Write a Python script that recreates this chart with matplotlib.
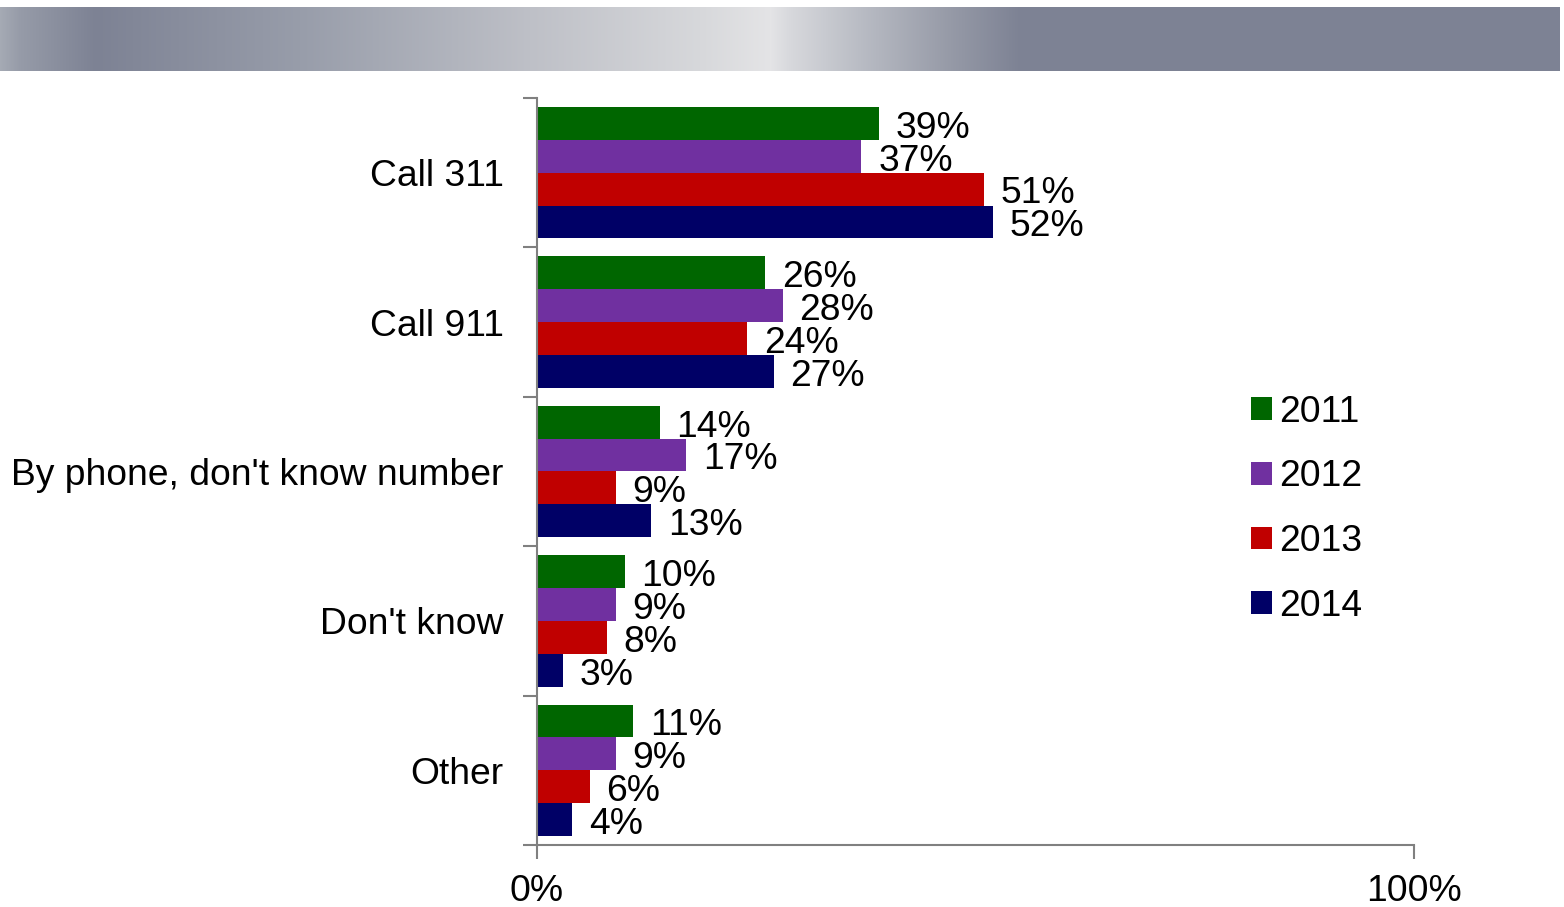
import numpy as np
import matplotlib
matplotlib.use("Agg")
import matplotlib.pyplot as plt
import matplotlib.patheffects as pe
from matplotlib.ticker import FixedLocator, NullFormatter

plt.rcParams['font.family'] = ['Liberation Sans', 'DejaVu Sans']

categories = ["Call 311", "Call 911", "By phone, don't know number", "Don't know", "Other"]
years = ["2011", "2012", "2013", "2014"]
values = {
    "2011": [39, 26, 14, 10, 11],
    "2012": [37, 28, 17, 9, 9],
    "2013": [51, 24, 9, 8, 6],
    "2014": [52, 27, 13, 3, 4],
}
colors = {"2011": "#006600", "2012": "#7030A0", "2013": "#C00000", "2014": "#000066"}
x_tick_labels = ["0%", "100%"]

FS = 26.8
W, H = 1564, 907
fig = plt.figure(figsize=(W / 100, H / 100), dpi=100)

# Header band with a horizontal grey gradient
band = fig.add_axes([0, 1 - 71 / H, 1560 / W, 64 / H])
stops_x = [0, 20, 95, 300, 530, 700, 770, 790, 860, 950, 1020, 1560]
stops_c = [(165, 170, 180), (150, 155, 168), (125, 130, 148), (152, 157, 170),
           (190, 192, 199), (215, 216, 219), (228, 228, 230), (215, 216, 220),
           (185, 188, 196), (150, 154, 167), (125, 130, 148), (125, 130, 148)]
xs = np.arange(1560)
grad = np.stack([np.interp(xs, stops_x, [c[i] for c in stops_c]) for i in range(3)], axis=-1) / 255
band.imshow(grad[None, :, :], aspect='auto', extent=[0, 1, 0, 1])
band.set_axis_off()

ax = fig.add_axes([537 / W, 1 - 845 / H, (1414 - 537) / W, (845 - 98) / H])

n_cat = len(categories)
bar_h = 0.22
y_centers = np.arange(n_cat)
shadow = [pe.SimplePatchShadow(offset=(3, -3), shadow_rgbFace='#808080', alpha=0.4), pe.Normal()]

for j, yr in enumerate(years):
    ys = y_centers + (j - 1.5) * bar_h
    bars = ax.barh(ys, values[yr], height=bar_h, color=colors[yr], label=yr, zorder=2)
    for b in bars:
        b.set_path_effects(shadow)
    for y, v in zip(ys, values[yr]):
        ax.annotate(f"{v}%", xy=(v, y), xytext=(12, -3.5), textcoords='offset points',
                    ha='left', va='center', fontsize=FS, color='black', zorder=3)

ax.set_xlim(0, 100)
ax.set_ylim(n_cat - 0.5, -0.5)

for side in ['top', 'right']:
    ax.spines[side].set_visible(False)
for side in ['left', 'bottom']:
    ax.spines[side].set_color('#808080')
    ax.spines[side].set_linewidth(1.5)

ax.set_yticks(y_centers)
ax.set_yticklabels(categories, fontsize=FS)
ax.tick_params(axis='y', which='major', length=0, pad=24)
ax.yaxis.set_minor_locator(FixedLocator(np.arange(-0.5, n_cat, 1.0)))
ax.yaxis.set_minor_formatter(NullFormatter())
ax.tick_params(axis='y', which='minor', length=10, width=1.5, color='#808080', direction='out')

ax.set_xticks([0, 100])
ax.set_xticklabels(x_tick_labels, fontsize=FS)
ax.tick_params(axis='x', length=10, width=1.5, color='#808080', direction='out', pad=11)

handles, labels = ax.get_legend_handles_labels()
for h in handles:
    for p in h.patches:
        p.set_path_effects([])
leg = ax.legend(handles, labels, loc='upper left',
                bbox_to_anchor=((1236 - 537) / (1414 - 537), (845 - 380) / (845 - 98)),
                frameon=False, fontsize=FS, handlelength=0.56, handleheight=0.56,
                handletextpad=0.2, labelspacing=0.795, borderaxespad=0)

fig.savefig("out.png", dpi=100)
